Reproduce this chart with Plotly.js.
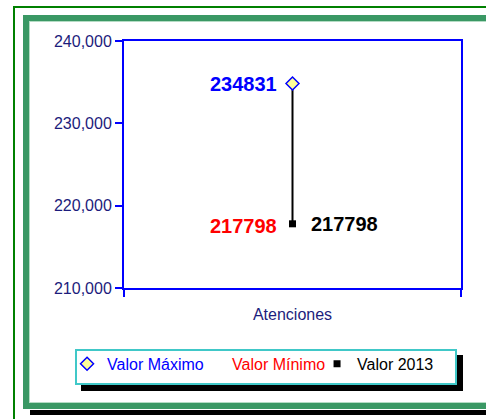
<!DOCTYPE html>
<html>
<head>
<meta charset="utf-8">
<script src="https://cdn.plot.ly/plotly-3.0.1.min.js"></script>
<style>
html,body{margin:0;padding:0;background:#fff;overflow:hidden;}
#wrap{position:relative;width:486px;height:419px;overflow:hidden;}
.f{position:absolute;box-sizing:border-box;}
#chart{position:absolute;left:0;top:0;width:486px;height:419px;}
</style>
</head>
<body>
<div id="wrap">
  <div class="f" style="left:13px;top:6px;width:520px;height:460px;border-left:2px solid #008000;border-top:2px solid #008000;"></div>
  <div class="f" style="left:30px;top:410px;width:520px;height:5px;background:#000;"></div>
  <div class="f" style="left:23px;top:15px;width:470px;height:394px;border:6px solid #3a9864;"></div>
  <div class="f" style="left:29px;top:21px;width:458px;height:382px;border:1px solid #b4dcc4;"></div>
  <div class="f" style="left:81px;top:355px;width:382px;height:36px;background:#000;"></div>
  <div class="f" style="left:75px;top:349px;width:382px;height:36px;background:#fff;border:2px solid #40c8c8;"></div>
  <div id="chart"></div>
</div>
<script>
var categories = ['Atenciones'];
var maxValues = [234831];
var minValues = [217798];
var values2013 = [217798];
var seriesNames = ['Valor Máximo', 'Valor Mínimo', 'Valor 2013'];
var yTicks = [210000, 220000, 230000, 240000];

var navy = '#1c1c7c';
var font = 'Liberation Sans, Arial, sans-serif';

var traces = [
  {
    x: categories.concat(categories), y: [maxValues[0], minValues[0]],
    type: 'scatter', mode: 'lines', line: {color: '#000', width: 2},
    showlegend: false, hoverinfo: 'skip'
  },
  {
    x: categories, y: maxValues, type: 'scatter', mode: 'markers',
    name: '<span style="color:#0000ff">' + seriesNames[0] + '</span>',
    marker: {symbol: 'diamond', size: 10, color: '#ffff99', line: {color: '#0000ff', width: 1.5}}
  },
  {
    x: categories, y: minValues, type: 'scatter', mode: 'markers',
    name: '<span style="color:#ff0000">' + seriesNames[1] + '</span>',
    marker: {symbol: 'circle', size: 1, color: 'rgba(0,0,0,0)', line: {width: 0}}
  },
  {
    x: categories, y: values2013, type: 'scatter', mode: 'markers',
    name: '<span style="color:#000">' + seriesNames[2] + '</span>',
    marker: {symbol: 'square', size: 7, color: '#000'}
  }
];

var annotations = [
  {x: categories[0], y: maxValues[0], text: String(maxValues[0]), xanchor: 'right', yanchor: 'middle',
   xshift: -14, showarrow: false, font: {family: font, size: 20, color: '#0000ff', weight: 'bold'}},
  {x: categories[0], y: minValues[0], text: String(minValues[0]), xanchor: 'right', yanchor: 'middle',
   xshift: -14, yshift: -2, showarrow: false, font: {family: font, size: 20, color: '#ff0000', weight: 'bold'}},
  {x: categories[0], y: values2013[0], text: String(values2013[0]), xanchor: 'left', yanchor: 'middle',
   xshift: 16, showarrow: false, font: {family: font, size: 20, color: '#000', weight: 'bold'}}
];

var layout = {
  width: 486, height: 419,
  margin: {l: 124, r: 25, t: 41, b: 131, pad: 0},
  paper_bgcolor: 'rgba(0,0,0,0)',
  plot_bgcolor: '#fff',
  font: {family: font, size: 16, color: navy},
  showlegend: true,
  xaxis: {
    type: 'category', categoryarray: categories, range: [-0.5, 0.5],
    showgrid: false, zeroline: false, showline: true, mirror: true,
    linecolor: '#0000ff', linewidth: 2,
    ticks: 'outside', tickson: 'boundaries', ticklen: 7, tickcolor: '#0000ff', tickwidth: 2,
    ticklabelstandoff: 11,
    tickfont: {family: font, size: 16, color: navy}, fixedrange: true
  },
  yaxis: {
    range: [210000, 240000], tickvals: yTicks, tickformat: ',d',
    showgrid: false, zeroline: false, showline: true, mirror: true,
    linecolor: '#0000ff', linewidth: 2,
    ticks: 'outside', ticklen: 7, tickcolor: '#0000ff', tickwidth: 2,
    tickfont: {family: font, size: 16, color: navy}, fixedrange: true
  },
  legend: {
    orientation: 'h', x: -0.169, xanchor: 'left', y: -0.238, yanchor: 'top',
    bgcolor: 'rgba(0,0,0,0)', borderwidth: 0,
    font: {family: font, size: 16}, itemwidth: 30, entrywidth: 80, traceorder: 'normal'
  },
  annotations: annotations
};

Plotly.newPlot('chart', traces, layout, {displayModeBar: false, staticPlot: true});
</script>
</body>
</html>
